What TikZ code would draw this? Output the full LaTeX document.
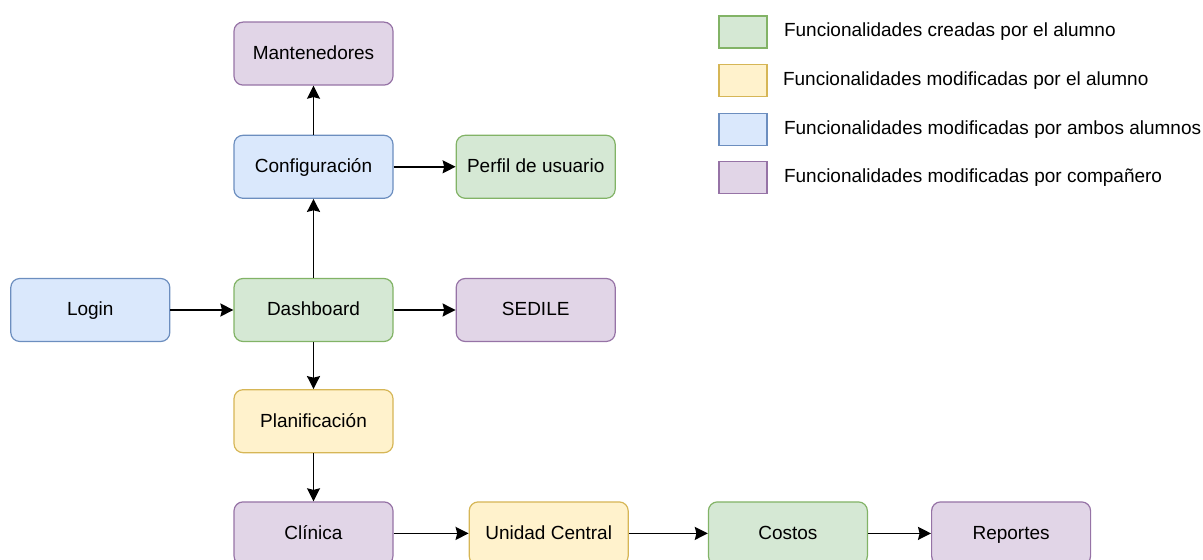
\documentclass[tikz,border=0pt]{standalone}
\usepackage{fontspec}
\setmainfont{Liberation Sans}
\usepackage{tikz}
\usetikzlibrary{positioning,arrows.meta}

\definecolor{verdeF}{HTML}{D5E8D4}
\definecolor{verdeD}{HTML}{82B366}
\definecolor{amarF}{HTML}{FFF2CC}
\definecolor{amarD}{HTML}{D6B656}
\definecolor{azulF}{HTML}{DAE8FC}
\definecolor{azulD}{HTML}{6C8EBF}
\definecolor{moraF}{HTML}{E1D5E7}
\definecolor{moraD}{HTML}{9673A6}

\begin{document}
\begin{tikzpicture}[
			x=0.5pt,y=-0.5pt,
			node distance=24pt,
			box/.style={
				draw,
				rounded corners=4.5pt,
				line width=0.6pt,
				minimum width=79.5pt,
				minimum height=31.5pt,
				align=center,
				font=\fontsize{9.5}{11}\selectfont,
				text height=6.6pt,
				text depth=0.6pt,
				inner sep=0pt
			},
			creada/.style={box,fill=verdeF,draw=verdeD},
			modif/.style={box,fill=amarF,draw=amarD},
			ambos/.style={box,fill=azulF,draw=azulD},
			companero/.style={box,fill=moraF,draw=moraD},
			swatch/.style={draw,line width=0.6pt,minimum width=24pt,minimum height=16pt,inner sep=0pt},
			legtext/.style={anchor=west,inner sep=0pt,font=\fontsize{9.5}{11}\selectfont},
			arrow/.style={-{Stealth[length=6.5pt,width=6.5pt,inset=0.8pt]},line width=0.85pt}
			]
			\useasboundingbox (0,0) rectangle (1203,560);
			
			\node[creada] (dash) at (313.5,310) {Dashboard};
			\node[ambos,left=31.5pt of dash] (login) {Login};
			\node[ambos,above=39.5pt of dash] (conf) {Configuración};
			\node[companero,above=24.5pt of conf] (mant) {Mantenedores};
			\node[creada,right=31pt of conf] (perfil) {Perfil de usuario};
			\node[companero,right=31pt of dash] (sedile) {SEDILE};
			\node[modif,below=23.5pt of dash] (plan) {Planificación};
			\node[companero,below=24pt of plan] (clin) {Clínica};
			\node[modif,right=37.5pt of clin] (unidad) {Unidad Central};
			\node[creada,right=39.5pt of unidad] (costos) {Costos};
			\node[companero,right=31.5pt of costos] (rep) {Reportes};
			
			\draw[arrow] (login)--(dash);
			\draw[arrow] (dash)--(conf);
			\draw[arrow] (conf)--(mant);
			\draw[arrow] (conf)--(perfil);
			\draw[arrow] (dash)--(sedile);
			\draw[arrow] (dash)--(plan);
			\draw[arrow] (plan)--(clin);
			\draw[arrow] (clin)--(unidad);
			\draw[arrow] (unidad)--(costos);
			\draw[arrow] (costos)--(rep);
			
			% leyenda
			\node[swatch,fill=verdeF,draw=verdeD] (legA) at (743,32) {};
			\node[swatch,fill=amarF,draw=amarD,below=7.5pt of legA] (legB) {};
			\node[swatch,fill=azulF,draw=azulD,below=8pt of legB] (legC) {};
			\node[swatch,fill=moraF,draw=moraD,below=7.5pt of legC] (legD) {};
			\node[legtext,right=8pt of legA] (txtA) {Funcionalidades creadas por el alumno};
			\node[legtext,right=7.5pt of legB] (txtB) {Funcionalidades modificadas por el alumno};
			\node[legtext,right=8pt of legC] (txtC) {Funcionalidades modificadas por ambos alumnos};
			\node[legtext,right=8pt of legD] (txtD) {Funcionalidades modificadas por compañero};
			
		\end{tikzpicture}
\end{document}
